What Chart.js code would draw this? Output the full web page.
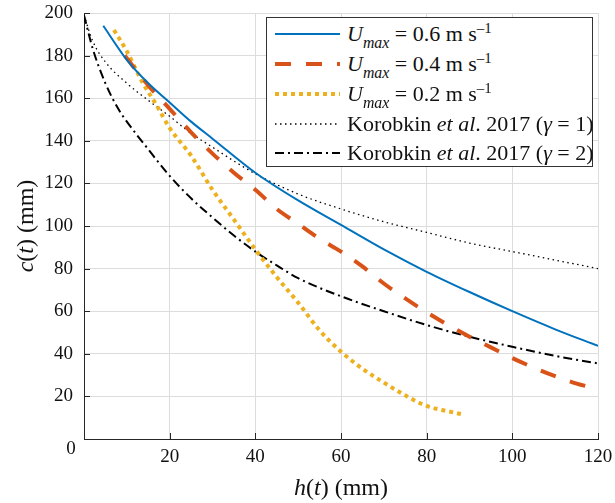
<!DOCTYPE html>
<html>
<head>
<meta charset="utf-8">
<script src="https://cdn.jsdelivr.net/npm/chart.js@4.4.1/dist/chart.umd.min.js"></script>
<style>
  html, body { margin: 0; padding: 0; background: #fff; }
  #wrap { position: relative; width: 615px; height: 503px; font-family: 'Liberation Serif', 'Times New Roman', serif; color: #111; }
  canvas { position: absolute; left: 0; top: 0; }
  .xtitle { position: absolute; left: 241px; width: 200px; top: 473px; text-align: center; font-size: 24px; line-height: 28px; }
  .ytitle { position: absolute; left: -75px; top: 212px; width: 200px; text-align: center; font-size: 24px; line-height: 28px; transform: rotate(-90deg); }
  .legend { position: absolute; left: 266px; top: 17px; width: 325px; height: 148px; border: 1px solid #333; background: #fff; }
  .row { position: absolute; left: 0; height: 30px; display: flex; align-items: center; font-size: 22px; white-space: nowrap; }
  .row svg { margin-left: 8px; margin-right: 7px; }
  sub { font-size: 0.72em; vertical-align: -0.42em; line-height: 0; font-style: italic; }
  sup { font-size: 0.68em; vertical-align: 0.55em; line-height: 0; }
</style>
</head>
<body>
<div id="wrap">
  <canvas id="chart" width="615" height="503"></canvas>
  <div class="ytitle"><i>c</i>(<i>t</i>) (mm)</div>
  <div class="xtitle"><i>h</i>(<i>t</i>) (mm)</div>
  <div class="legend">
    <div class="row" style="top:1px"><svg width="65" height="10"><line x1="0" y1="5" x2="65" y2="5" stroke="#0072BD" stroke-width="2"/></svg><span><i>U</i><sub>max</sub> = 0.6 m s<sup>–1</sup></span></div>
    <div class="row" style="top:31px"><svg width="65" height="10"><line x1="0" y1="5" x2="65" y2="5" stroke="#D95319" stroke-width="4" stroke-dasharray="16 15"/></svg><span><i>U</i><sub>max</sub> = 0.4 m s<sup>–1</sup></span></div>
    <div class="row" style="top:61px"><svg width="65" height="10"><line x1="0" y1="5" x2="65" y2="5" stroke="#EDB120" stroke-width="4" stroke-dasharray="4 4"/></svg><span><i>U</i><sub>max</sub> = 0.2 m s<sup>–1</sup></span></div>
    <div class="row" style="top:91px"><svg width="65" height="10"><line x1="0" y1="5" x2="65" y2="5" stroke="#000" stroke-width="1.3" stroke-dasharray="1.5 3.5"/></svg><span>Korobkin <i>et al</i>. 2017 (<i>γ</i> = 1)</span></div>
    <div class="row" style="top:120px"><svg width="65" height="10"><line x1="0" y1="5" x2="65" y2="5" stroke="#000" stroke-width="2" stroke-dasharray="9 4 2 4"/></svg><span>Korobkin <i>et al</i>. 2017 (<i>γ</i> = 2)</span></div>
  </div>
</div>
<script>
// Data: h(t) in mm, c(t) in mm
const h06 = [4.5, 10, 15, 20, 25, 30, 40, 50, 60, 70, 80, 90, 100, 110, 120];
const c06 = [194, 178, 167, 158, 149, 141, 125, 112, 100.5, 89, 78.5, 69, 60, 51.5, 43.7];

const h04 = [9.5, 15, 20, 25, 30, 35, 40, 45, 50, 55, 60, 65, 70, 75, 80, 85, 90, 95, 100, 105, 110, 115, 120];
const c04 = [180, 166, 155, 144, 134, 125, 117, 108, 101, 94, 88, 81, 73, 66, 59.5, 53.5, 48, 43, 38, 33.5, 29.5, 26, 23.5];

const h02 = [7, 10, 13.5, 17, 20, 25, 30, 35, 40, 45, 50, 55, 60, 65, 70, 75, 80, 85, 88.5];
const c02 = [192, 182, 168, 156.5, 146, 133, 117, 103, 89, 76, 64, 51, 41, 33, 26.5, 20.5, 15.5, 13, 11.5];

const hK1 = [0, 2, 5, 10, 15, 20, 25, 30, 35, 40, 50, 60, 70, 80, 90, 100, 110, 120];
const cK1 = [199, 187, 177, 167, 159, 151.5, 143.5, 137, 130.5, 124.5, 115, 108, 102, 97, 92, 88, 84, 80];

const hK2 = [0, 2, 5, 8, 10, 15, 20, 25, 30, 35, 40, 45, 50, 60, 70, 80, 90, 100, 110, 120];
const cK2 = [199, 183.5, 167, 155, 149, 136, 123.5, 113, 104, 95.5, 88, 81.5, 75.5, 67, 60, 53.5, 48, 43.3, 39, 35.5];

const xTicks = [0, 20, 40, 60, 80, 100, 120];
const yTicks = [0, 20, 40, 60, 80, 100, 120, 140, 160, 180, 200];

const serif = "'Liberation Serif', 'Times New Roman', Times, serif";
Chart.defaults.font.family = serif;

const pts = (xs, ys) => xs.map((x, i) => ({ x: x, y: ys[i] }));
const tickFont = { family: serif, size: 19 };

// inward tick marks + shared origin label
const axisExtras = {
    id: 'axisExtras',
    afterDraw(chart) {
        const ctx = chart.ctx, a = chart.chartArea;
        const xs = chart.scales.x, ys = chart.scales.y;
        ctx.save();
        ctx.strokeStyle = '#262626';
        ctx.lineWidth = 1;
        ctx.beginPath();
        xTicks.forEach(v => { const p = Math.round(xs.getPixelForValue(v)) + 0.5; ctx.moveTo(p, a.bottom); ctx.lineTo(p, a.bottom - 6); });
        yTicks.forEach(v => { const p = Math.round(ys.getPixelForValue(v)) + 0.5; ctx.moveTo(a.left, p); ctx.lineTo(a.left + 6, p); });
        ctx.stroke();
        ctx.fillStyle = '#111';
        ctx.font = '19px ' + serif;
        ctx.textAlign = 'center';
        ctx.textBaseline = 'middle';
        ctx.fillText('0', 71, 449);
        ctx.restore();
    }
};

const noPad = s => { s.paddingTop = 0; s.paddingBottom = 0; s.paddingLeft = 0; s.paddingRight = 0; };
const common = { showLine: true, pointRadius: 0, fill: false, cubicInterpolationMode: 'monotone' };

function draw() {
    new Chart(document.getElementById('chart'), {
        type: 'scatter',
        data: {
            datasets: [
                { ...common, label: 'Umax = 0.6', data: pts(h06, c06), borderColor: '#0072BD', borderWidth: 2 },
                { ...common, label: 'Umax = 0.4', data: pts(h04, c04), borderColor: '#D95319', borderWidth: 4, borderDash: [16, 15] },
                { ...common, label: 'Umax = 0.2', data: pts(h02, c02), borderColor: '#EDB120', borderWidth: 4, borderDash: [4, 4] },
                { ...common, label: 'gamma = 1', data: pts(hK1, cK1), borderColor: '#000', borderWidth: 1.3, borderDash: [1.5, 3.5] },
                { ...common, label: 'gamma = 2', data: pts(hK2, cK2), borderColor: '#000', borderWidth: 2, borderDash: [9, 4, 2, 4] }
            ]
        },
        options: {
            responsive: false,
            animation: false,
            devicePixelRatio: 1,
            layout: { padding: { top: 13, right: 17, left: 0, bottom: 0 } },
            plugins: { legend: { display: false }, tooltip: { enabled: false } },
            scales: {
                x: {
                    type: 'linear', min: 0, max: 120,
                    afterFit: s => { s.height = 64; noPad(s); },
                    afterBuildTicks: s => { s.ticks = xTicks.map(v => ({ value: v })); },
                    grid: { color: '#dcdcdc', lineWidth: 1, drawTicks: false },
                    border: { color: '#262626', width: 1 },
                    ticks: { autoSkip: false, maxRotation: 0, padding: 7, color: '#111', font: tickFont, callback: v => v === 0 ? '' : v }
                },
                y: {
                    type: 'linear', min: 0, max: 200,
                    afterFit: s => { s.width = 84; noPad(s); },
                    afterBuildTicks: s => { s.ticks = yTicks.map(v => ({ value: v })); },
                    grid: { color: '#dcdcdc', lineWidth: 1, drawTicks: false },
                    border: { color: '#262626', width: 1 },
                    ticks: { autoSkip: false, padding: 11, color: '#111', font: tickFont, callback: v => v === 0 ? '' : v }
                }
            }
        },
        plugins: [axisExtras]
    });
}

document.fonts.load('19px ' + serif).then(draw, draw);
</script>
</body>
</html>
